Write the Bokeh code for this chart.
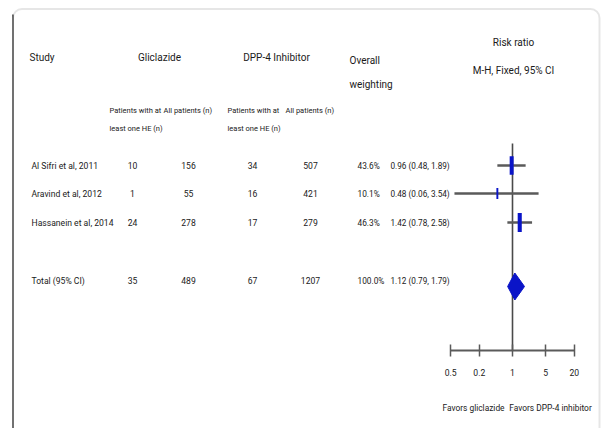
import math
from bokeh.plotting import figure
from bokeh.models import Range1d, LogScale, LogAxis, FixedTicker, BoxAnnotation
from bokeh.core.properties import value
from bokeh.embed import file_html
from bokeh.resources import INLINE

# ---------------- data ----------------
studies = ["Al Sifri et al, 2011", "Aravind et al, 2012", "Hassanein et al, 2014"]
glic_events = [10, 1, 24]
glic_total = [156, 55, 278]
dpp_events = [34, 16, 17]
dpp_total = [507, 421, 279]
weights = [43.6, 10.1, 46.3]
rr = [0.96, 0.48, 1.42]
rr_lo = [0.48, 0.06, 0.78]
rr_hi = [1.89, 3.54, 2.58]

total_label = "Total (95% CI)"
total_glic_events = 35
total_glic_total = 489
total_dpp_events = 67
total_dpp_total = 1207
total_weight = 100.0
total_rr = 1.12
total_lo = 0.79
total_hi = 1.79

tick_values = [0.05, 0.2, 1, 5, 20]
tick_labels = ["0.5", "0.2", "1", "5", "20"]
null_value = 1

# ---------------- layout ----------------
W, H = 606, 428
FONT_NAME = "Roboto"
FONT = value(FONT_NAME)
TXT = "#1a1a1a"
LINE = "#5a5a5a"
BLUE = "#0a14c8"

x_one = 512.0          # screen x of RR = 1
px_per_dec = 47.5
rr_start = 10 ** (-x_one / px_per_dec)
rr_end = 10 ** ((W - x_one) / px_per_dec)

p = figure(width=W, height=H, output_backend="svg", toolbar_location=None,
           x_range=Range1d(0, W), y_range=Range1d(H, 0),
           x_axis_location=None, y_axis_location=None,
           min_border=0, outline_line_color=None)
p.extra_x_ranges = {"rr": Range1d(rr_start, rr_end)}
p.extra_x_scales = {"rr": LogScale()}
p.grid.visible = False
p.background_fill_color = "white"
p.border_fill_color = "white"

# frame with rounded corners (open at the bottom)
p.add_layout(BoxAnnotation(left=12.5, right=599, top=8.5, bottom=H + 40,
                           border_radius=9, fill_alpha=0,
                           line_color="#ababab", line_width=2))
p.segment(x0=[12.5], x1=[12.5], y0=[14], y1=[H], line_color="#585858", line_width=2)

def txt(x, y, s, size="8.5px", align="left"):
    p.text(x=[x], y=[y], text=[s], text_font=FONT, text_font_size=size,
           text_align=align, text_baseline="middle", text_color=TXT)

HS = "10px"
# headers
txt(29, 57, "Study", HS)
txt(159, 57, "Gliclazide", HS, "center")
txt(276, 57, "DPP-4 Inhibitor", HS, "center")
txt(349, 60, "Overall", HS)
txt(349, 84, "weighting", HS)
txt(513, 42, "Risk ratio", HS, "center")
txt(513, 70, "M-H, Fixed, 95% CI", HS, "center")
SS = "7.5px"
txt(109, 110, "Patients with at", SS)
txt(109, 128, "least one HE (n)", SS)
txt(163, 110, "All patients (n)", SS)
txt(227, 110, "Patients with at", SS)
txt(227, 128, "least one HE (n)", SS)
txt(285, 110, "All patients (n)", SS)

row_y = [165, 193, 222]
total_y = 280

# table rows
all_names = studies + [total_label]
all_ge = glic_events + [total_glic_events]
all_gt = glic_total + [total_glic_total]
all_de = dpp_events + [total_dpp_events]
all_dt = dpp_total + [total_dpp_total]
all_w = weights + [total_weight]
all_rr = rr + [total_rr]
all_lo = rr_lo + [total_lo]
all_hi = rr_hi + [total_hi]
all_y = row_y + [total_y]

DS = "8.6px"
NS = "8.3px"
for i in range(len(all_names)):
    y = all_y[i]
    txt(31, y, all_names[i], DS)
    txt(132, y, str(all_ge[i]), DS, "center")
    txt(188, y, str(all_gt[i]), DS, "center")
    txt(252, y, str(all_de[i]), DS, "center")
    txt(310, y, str(all_dt[i]), DS, "center")
    txt(357, y, f"{all_w[i]:.1f}%", NS)
    txt(390, y, f"{all_rr[i]:.2f} ({all_lo[i]:.2f}, {all_hi[i]:.2f})", "8.2px")

# forest plot
p.segment(x0=[null_value], x1=[null_value], y0=[143], y1=[350],
          x_range_name="rr", line_color="#4a4a4a", line_width=1.6)
p.segment(x0=rr_lo, x1=rr_hi, y0=row_y, y1=row_y, x_range_name="rr",
          line_color=LINE, line_width=2.5)
p.rect(x=rr, y=row_y, width=[0.6 * math.sqrt(w) for w in weights],
       height=[2.2 * math.sqrt(w) + 4 for w in weights],
       width_units="screen", height_units="screen", x_range_name="rr",
       fill_color=BLUE, line_color=None)
dy = 13.5
dc = total_y + 6
p.patch(x=[total_lo, total_rr, total_hi, total_rr],
        y=[dc, dc - dy, dc, dc + dy],
        x_range_name="rr", fill_color=BLUE, line_color=BLUE)

ax = LogAxis(x_range_name="rr", ticker=FixedTicker(ticks=tick_values),
             major_label_overrides={v: l for v, l in zip(tick_values, tick_labels)},
             bounds=(tick_values[0], tick_values[-1]), fixed_location=350)
ax.axis_line_color = LINE
ax.axis_line_width = 2.2
ax.major_tick_line_color = LINE
ax.major_tick_line_width = 1.5
ax.major_tick_in = 6
ax.major_tick_out = 6
ax.minor_tick_line_color = None
ax.major_label_text_font = FONT_NAME
ax.major_label_text_font_size = "8.6px"
ax.major_label_text_color = TXT
ax.major_label_standoff = 12
p.add_layout(ax, "below")

txt(473, 407, "Favors gliclazide", "8.4px", "center")
txt(550, 407, "Favors DPP-4 inhibitor", "8.4px", "center")

open("out.html", "w").write(file_html(p, INLINE))
